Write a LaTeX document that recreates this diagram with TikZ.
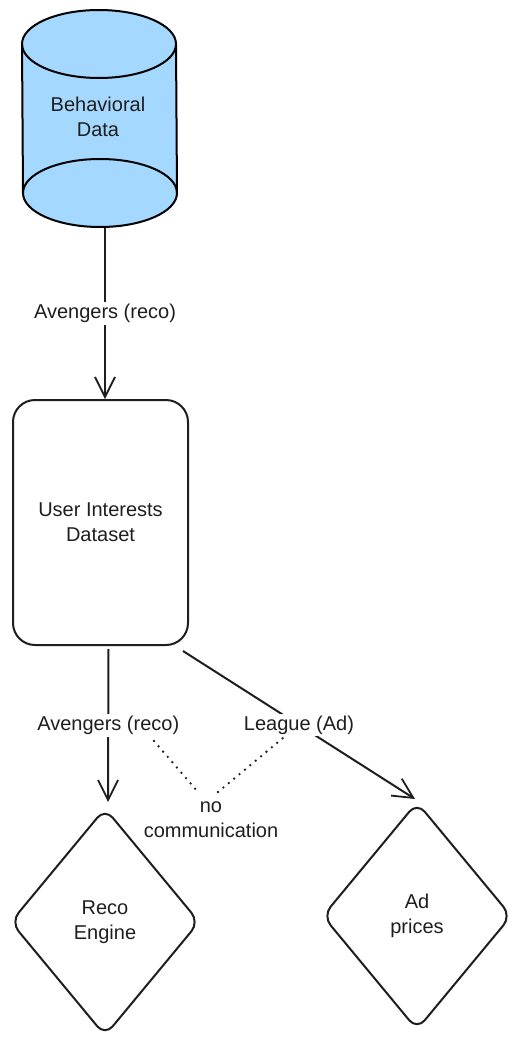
\documentclass[tikz,border=0pt]{standalone}
\usepackage{fontspec}
\setmainfont{Liberation Sans}
\usetikzlibrary{arrows.meta,shapes.geometric}
\definecolor{stroke}{HTML}{1E1E1E}
\definecolor{dbblue}{HTML}{A5D8FF}

\begin{document}
\begin{tikzpicture}[x=1pt,y=-1pt]

		\tikzstyle{every node}=[font=\fontsize{20}{25}\selectfont, text=stroke]
		\tikzstyle{arr}=[draw=stroke, line width=2pt, -{Straight Barb[length=20pt,width=20pt,line width=1.8pt]}]
		\tikzstyle{lbl}=[fill=white, inner sep=2pt]
		\tikzstyle{dec}=[draw=stroke, line width=2pt, diamond, rounded corners=12pt, align=center, minimum width=189pt, minimum height=228pt, inner sep=0pt]
		\tikzstyle{dots}=[draw=stroke, line width=2.6pt, line cap=round, dash pattern=on 0pt off 7pt]

		\useasboundingbox (0,0) rectangle (530,1049);

		% database
		\fill[dbblue] (23,44) rectangle (176,193);
		\fill[dbblue] (99,44) ellipse [x radius=77, y radius=34];
		\fill[dbblue] (100,193) ellipse [x radius=77, y radius=34];
		\draw[stroke, line width=2pt] (99,44) ellipse [x radius=77, y radius=34];
		\draw[stroke, line width=2pt] (100,193) ellipse [x radius=77, y radius=34];
		\draw[stroke, line width=2pt] (22,44) -- (23,193);
		\draw[stroke, line width=2pt] (176,44) -- (177,193);
		\node[align=center] (data) at (98,117) {Behavioral\\Data};
		\coordinate (databot) at (105,228);

		\node[draw=stroke, line width=2pt, rounded corners=22pt, minimum width=175pt, minimum height=245pt, align=center] (ds) at (100.5,522.5) {User Interests\\Dataset};

		\node[dec] (reco) at (105,922) {Reco\\Engine};
		\node[dec] (ad) at (417,916) {Ad\\prices};

		\draw[arr] (databot) -- (databot |- ds.north) node[lbl, midway] (lbltop) {Avengers (reco)};
		\draw[arr] ([xshift=8pt,yshift=-3pt]ds.south) -- ([xshift=3pt,yshift=5pt]reco.north) node[lbl, midway] (lblreco) {Avengers (reco)};
		\draw[arr] ([xshift=-6pt,yshift=-5pt]ds.south east) -- ([xshift=-2pt,yshift=2pt]ad.north) node[lbl, midway] (lblad) {League (Ad)};

		% no communication
		\node[align=center] (nocomm) at (211,820) {no\\communication};
		\coordinate (dotA) at (154,741);
		\coordinate (dotB) at (198,792);
		\coordinate (dotC) at (218,792);
		\coordinate (dotD) at (283,738);
		\draw[dots] (dotA) -- (dotB);
		\draw[dots] (dotC) -- (dotD);

\end{tikzpicture}
\end{document}
